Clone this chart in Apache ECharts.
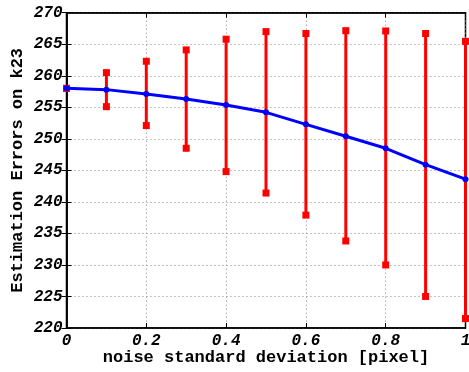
<!DOCTYPE html>
<html><head><meta charset="utf-8">
<script src="https://cdn.jsdelivr.net/npm/echarts@6/dist/echarts.min.js"></script>
<style>html,body{margin:0;padding:0;background:#fff}#c{width:469px;height:372px}</style>
</head><body><div id="c"></div>
<script>
var noise = [0, 0.1, 0.2, 0.3, 0.4, 0.5, 0.6, 0.7, 0.8, 0.9, 1.0];
var meanErr = [258.0, 257.8, 257.1, 256.3, 255.35, 254.2, 252.3, 250.4, 248.5, 245.9, 243.6];
var upperErr = [258.0, 260.5, 262.3, 264.1, 265.8, 267.0, 266.7, 267.15, 267.1, 266.7, 265.45];
var lowerErr = [258.0, 255.1, 252.1, 248.5, 244.8, 241.4, 237.9, 233.8, 230.0, 225.0, 221.5];

var errData = noise.map(function (x, i) { return [x, lowerErr[i], upperErr[i]]; });
var lineData = noise.map(function (x, i) { return [x, meanErr[i]]; });

var font = '"Liberation Mono", "DejaVu Sans Mono", monospace';
var chart = echarts.init(document.getElementById('c'));
var tickLabel = { fontFamily: font, fontSize: 16, fontWeight: 'bold', fontStyle: 'italic', color: '#000' };
chart.setOption({
  animation: false,
  grid: { left: 66.5, right: 3.5, top: 12.7, bottom: 44, show: true, borderColor: '#000', borderWidth: 1.5,
          containLabel: false, outerBoundsMode: 'none' },
  xAxis: [{
    type: 'value', min: 0, max: 1, interval: 0.2,
    name: 'noise standard deviation [pixel]', nameLocation: 'middle', nameGap: 21, nameMoveOverlap: false,
    nameTextStyle: { fontFamily: font, fontSize: 17, fontWeight: 'bold', color: '#000' },
    axisLine: { show: true, lineStyle: { color: '#000', width: 1.5 } },
    axisTick: { show: true, inside: true, length: 5, lineStyle: { color: '#000' } },
    axisLabel: Object.assign({ margin: 5, formatter: function (v) { return String(Math.round(v * 10) / 10); } }, tickLabel),
    splitLine: { show: true, lineStyle: { type: [1, 3], color: '#888' } }
  }, {
    type: 'value', min: 0, max: 1, interval: 0.2, position: 'top',
    axisLine: { show: true, lineStyle: { color: '#000', width: 1.5 } },
    axisTick: { show: true, inside: true, length: 5, lineStyle: { color: '#000' } },
    axisLabel: { show: false }, splitLine: { show: false }
  }],
  yAxis: [{
    type: 'value', min: 220, max: 270, interval: 5,
    name: 'Estimation Errors on k23', nameLocation: 'middle', nameGap: 40, nameMoveOverlap: false,
    nameTextStyle: { fontFamily: font, fontSize: 17, fontWeight: 'bold', color: '#000' },
    axisLine: { show: true, lineStyle: { color: '#000', width: 1.5 } },
    axisTick: { show: true, inside: true, length: 5, lineStyle: { color: '#000' } },
    axisLabel: Object.assign({ margin: 4 }, tickLabel),
    splitLine: { show: true, lineStyle: { type: [1, 3], color: '#888' } }
  }, {
    type: 'value', min: 220, max: 270, interval: 5, position: 'right',
    axisLine: { show: true, lineStyle: { color: '#000', width: 1.5 } },
    axisTick: { show: true, inside: true, length: 5, lineStyle: { color: '#000' } },
    axisLabel: { show: false }, splitLine: { show: false }
  }],
  series: [{
    type: 'custom',
    data: errData,
    clip: false,
    z: 2,
    encode: { x: 0, y: [1, 2] },
    renderItem: function (params, api) {
      var x = api.value(0);
      var lo = api.coord([x, api.value(1)]);
      var hi = api.coord([x, api.value(2)]);
      var s = 7;
      return {
        type: 'group',
        children: [
          { type: 'line', shape: { x1: lo[0], y1: lo[1], x2: hi[0], y2: hi[1] }, style: { stroke: '#ff0000', lineWidth: 3 } },
          { type: 'rect', shape: { x: lo[0] - s / 2, y: lo[1] - s / 2, width: s, height: s }, style: { fill: '#ff0000' } },
          { type: 'rect', shape: { x: hi[0] - s / 2, y: hi[1] - s / 2, width: s, height: s }, style: { fill: '#ff0000' } }
        ]
      };
    }
  }, {
    type: 'line',
    data: lineData,
    z: 3,
    symbol: 'circle', symbolSize: 6,
    lineStyle: { color: '#0000ff', width: 3 },
    itemStyle: { color: '#0000ff' }
  }]
});
</script></body></html>
